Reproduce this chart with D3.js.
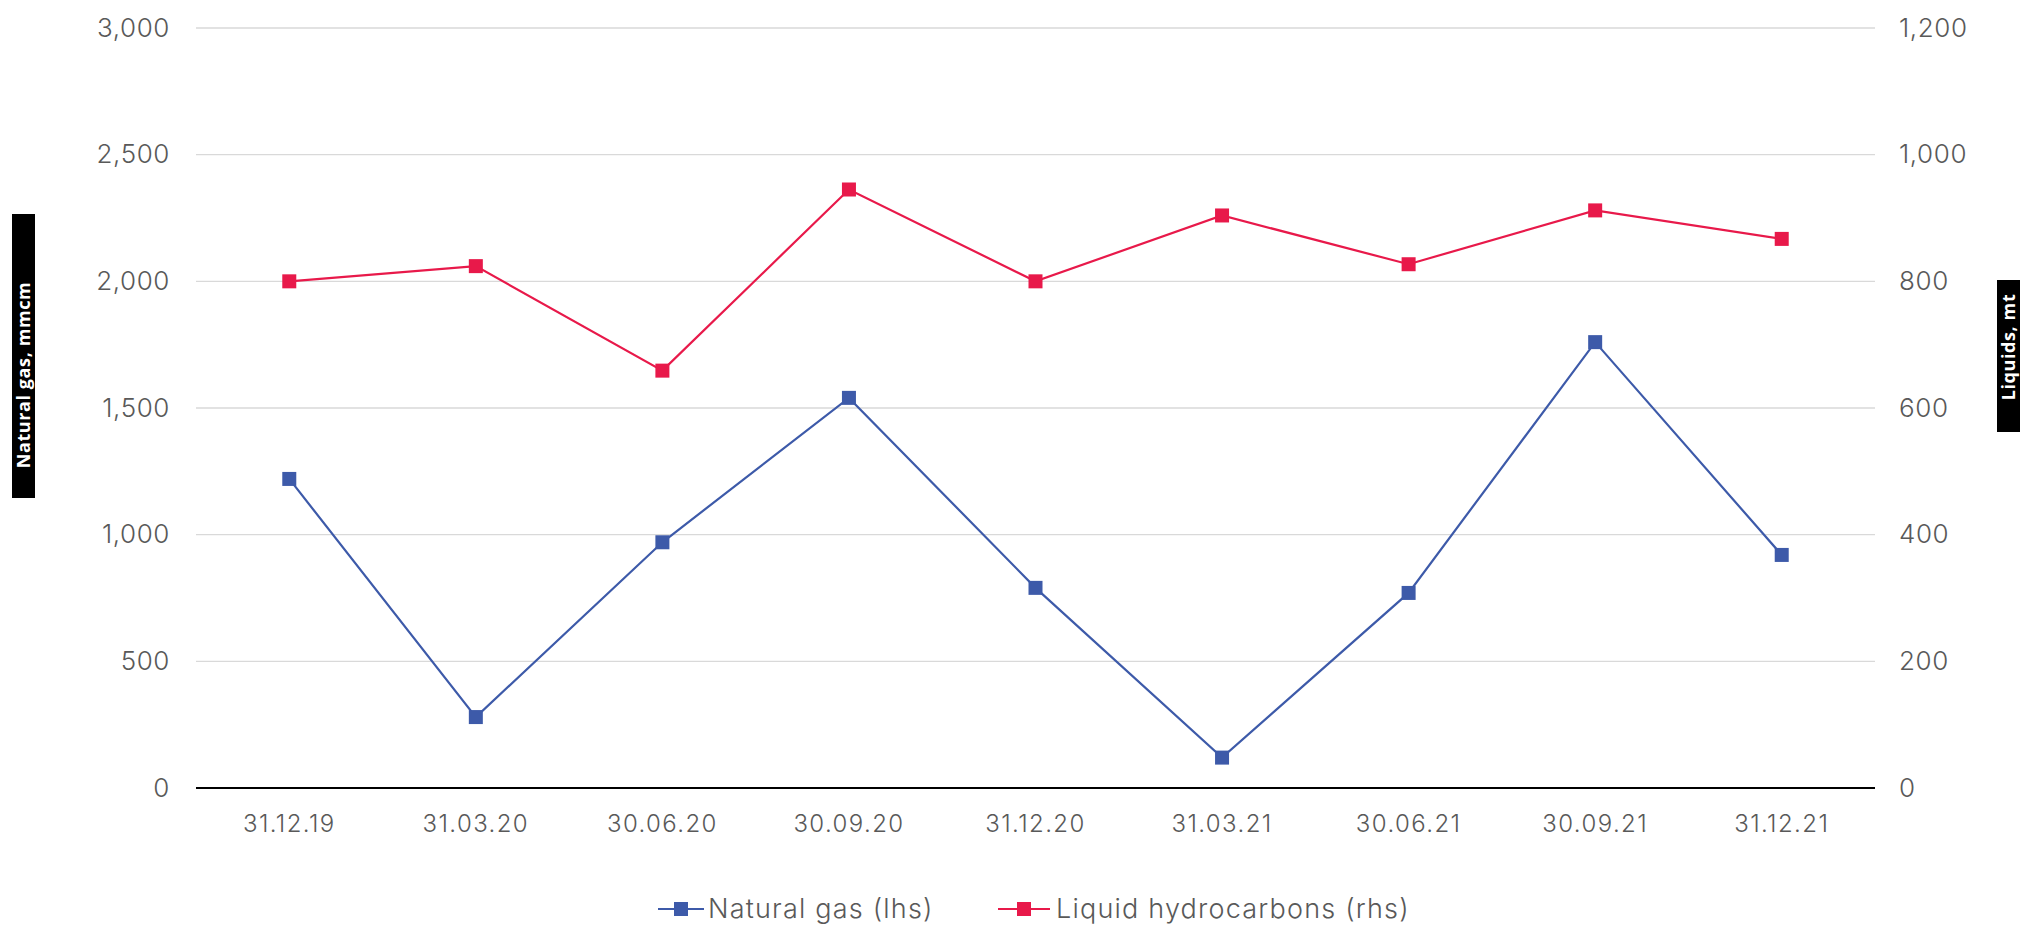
<!DOCTYPE html>
<html>
<head>
<meta charset="utf-8">
<script src="https://cdn.jsdelivr.net/npm/d3@7"></script>
<style>
  html, body { margin: 0; padding: 0; background: #ffffff; }
  svg { display: block; }
  .tick text { font-family: Inter, "Open Sans", sans-serif; font-weight: 300; fill: #595959; }
</style>
</head>
<body>
<svg id="chart" width="2022" height="927"></svg>
<script>
// Quarter-end dates
const periods = ["31.12.19", "31.03.20", "30.06.20", "30.09.20", "31.12.20",
                 "31.03.21", "30.06.21", "30.09.21", "31.12.21"];
// Natural gas, mmcm (left axis)
const naturalGas = [1220, 280, 970, 1540, 790, 120, 770, 1760, 920];
// Liquid hydrocarbons, mt (right axis)
const liquids = [800, 824, 659, 945, 800, 904, 827, 912, 867];

const leftTicks = [0, 500, 1000, 1500, 2000, 2500, 3000];
const rightTicks = [0, 200, 400, 600, 800, 1000, 1200];

const seriesNames = ["Natural gas (lhs)", "Liquid hydrocarbons (rhs)"];
const seriesColors = ["#3d5aa9", "#e8194a"];

const W = 2022, H = 927;
const plot = { left: 196, right: 1875, top: 28, bottom: 788 };

const svg = d3.select("#chart");

const x = d3.scaleBand().domain(periods).range([plot.left, plot.right]).padding(0);
const cx = d => x(d) + x.bandwidth() / 2;
const yL = d3.scaleLinear().domain([0, 3000]).range([plot.bottom, plot.top]);
const yR = d3.scaleLinear().domain([0, 1200]).range([plot.bottom, plot.top]);

const fmt = d3.format(",");

// Horizontal gridlines
svg.append("g")
  .selectAll("line")
  .data(leftTicks.filter(t => t > 0))
  .join("line")
  .attr("x1", plot.left).attr("x2", plot.right)
  .attr("y1", d => yL(d)).attr("y2", d => yL(d))
  .attr("stroke", "#d9d9d9").attr("stroke-width", 1.3);

// Left axis labels
const gL = svg.append("g")
  .attr("transform", `translate(${plot.left},0)`)
  .call(d3.axisLeft(yL).tickValues(leftTicks).tickFormat(fmt).tickSize(0).tickPadding(26));
gL.select(".domain").remove();
gL.selectAll("text").attr("font-size", 26).attr("letter-spacing", 0.6);

// Right axis labels
const gR = svg.append("g")
  .attr("transform", `translate(${plot.right},0)`)
  .call(d3.axisRight(yR).tickValues(rightTicks).tickFormat(fmt).tickSize(0).tickPadding(24));
gR.select(".domain").remove();
gR.selectAll("text").attr("font-size", 26).attr("letter-spacing", 0.6);

// Category axis
const gX = svg.append("g")
  .attr("transform", `translate(0,${plot.bottom})`)
  .call(d3.axisBottom(x).tickSize(0).tickPadding(27));
gX.select(".domain").remove();
gX.selectAll("text").attr("font-size", 24).attr("letter-spacing", 1.4);

// Zero baseline
svg.append("line")
  .attr("x1", plot.left).attr("x2", plot.right)
  .attr("y1", yL(0)).attr("y2", yL(0))
  .attr("stroke", "#000").attr("stroke-width", 2);

// Series lines and markers
const series = [
  { values: naturalGas, y: yL, color: seriesColors[0] },
  { values: liquids, y: yR, color: seriesColors[1] }
];
const msize = 14;
series.forEach(s => {
  const pts = periods.map((p, i) => [cx(p), s.y(s.values[i])]);
  svg.append("path")
    .attr("d", d3.line()(pts))
    .attr("fill", "none")
    .attr("stroke", s.color)
    .attr("stroke-width", 2.2);
  svg.append("g")
    .selectAll("rect")
    .data(pts)
    .join("rect")
    .attr("x", d => d[0] - msize / 2)
    .attr("y", d => d[1] - msize / 2)
    .attr("width", msize).attr("height", msize)
    .attr("fill", s.color);
});

// Legend
const legendItems = [
  { x0: 658, x1: 704, tx: 708 },
  { x0: 998, x1: 1050, tx: 1056 }
];
const legY = 909;
legendItems.forEach((it, i) => {
  const g = svg.append("g");
  g.append("line")
    .attr("x1", it.x0).attr("x2", it.x1)
    .attr("y1", legY).attr("y2", legY)
    .attr("stroke", seriesColors[i]).attr("stroke-width", 2.2);
  g.append("rect")
    .attr("x", (it.x0 + it.x1) / 2 - msize / 2)
    .attr("y", legY - msize / 2)
    .attr("width", msize).attr("height", msize)
    .attr("fill", seriesColors[i]);
  g.append("text")
    .attr("x", it.tx).attr("y", legY)
    .attr("dy", "0.35em")
    .attr("font-family", "Inter, 'Open Sans', sans-serif")
    .attr("font-weight", 300)
    .attr("font-size", 27)
    .attr("letter-spacing", 1.2)
    .attr("fill", "#595959")
    .text(seriesNames[i]);
});

// Rotated axis titles on black tags
const titles = [
  { text: "Natural gas, mmcm", bx: 12, by: 214, bw: 23, bh: 284, tx: 23.5, ty: 375 },
  { text: "Liquids, mt", bx: 1997, by: 280, bw: 23, bh: 152, tx: 2008.5, ty: 347 }
];
titles.forEach(t => {
  svg.append("rect")
    .attr("x", t.bx).attr("y", t.by)
    .attr("width", t.bw).attr("height", t.bh)
    .attr("fill", "#000");
  svg.append("text")
    .attr("transform", `translate(${t.tx},${t.ty}) rotate(-90)`)
    .attr("text-anchor", "middle")
    .attr("dy", "0.36em")
    .attr("font-family", "'Open Sans', sans-serif")
    .attr("font-weight", 700)
    .attr("font-size", 18)
    .attr("letter-spacing", 0.6)
    .attr("fill", "#fff")
    .text(t.text);
});
</script>
</body>
</html>
